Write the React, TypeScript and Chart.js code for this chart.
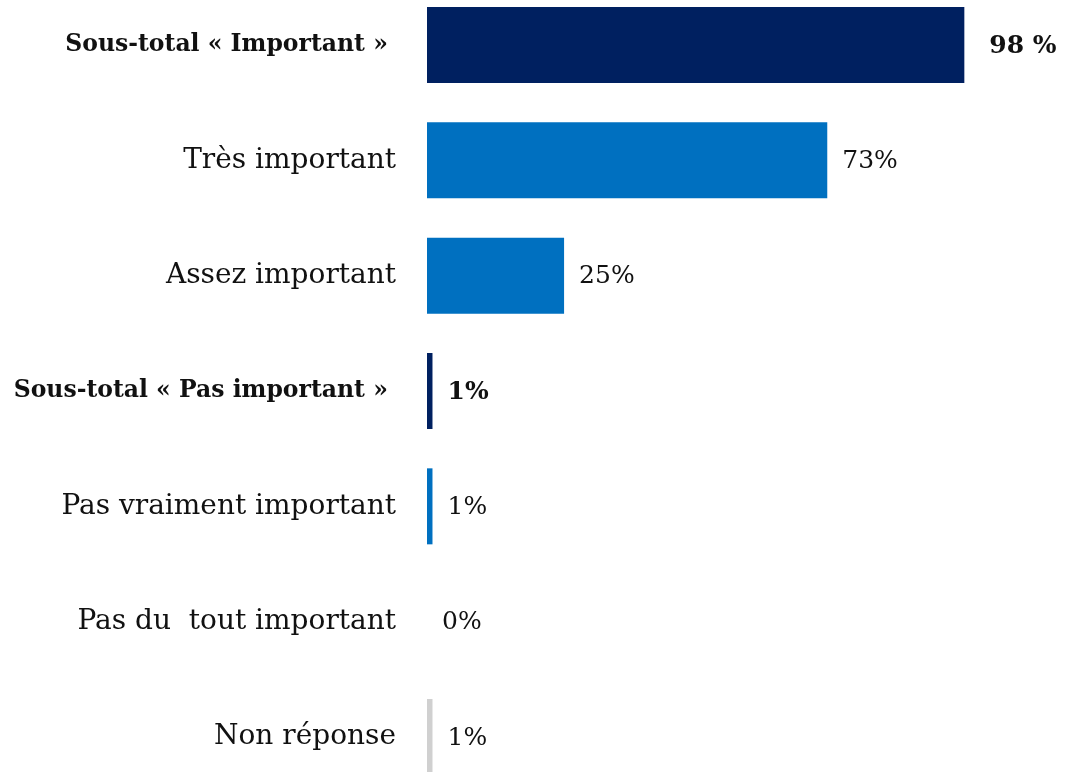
import React, { useEffect, useRef } from "react";
import { Chart, registerables } from "chart.js";

Chart.register(...registerables);

const categories = [
  "Sous-total « Important » ",
  "Très important",
  "Assez important",
  "Sous-total « Pas important » ",
  "Pas vraiment important",
  "Pas du  tout important",
  "Non réponse",
];
const values = [98, 73, 25, 1, 1, 0, 1];
const valueLabels = ["98 %", "73%", "25%", "1%", "1%", "0%", "1%"];
const isSubtotal = [true, false, false, true, false, false, false];
const barColors = ["#002060", "#0070C0", "#0070C0", "#002060", "#0070C0", "#0070C0", "#D0D0D0"];

const FONT = "'DejaVu Serif', serif";

const valueLabelPlugin = {
  id: "valueLabels",
  afterDatasetsDraw(chart: any) {
    const ctx = chart.ctx;
    const meta = chart.getDatasetMeta(0);
    ctx.save();
    ctx.textBaseline = "middle";
    ctx.textAlign = "left";
    ctx.fillStyle = "#111111";
    meta.data.forEach((bar: any, i: number) => {
      const bold = isSubtotal[i];
      ctx.font = `${bold ? "bold " : ""}25px ${FONT}`;
      const gap = i === 0 ? 25 : 15;
      ctx.fillText(valueLabels[i], bar.x + gap, bar.y + 1);
    });
    ctx.restore();
  },
};

export default function App() {
  const ref = useRef<HTMLCanvasElement | null>(null);
  useEffect(() => {
    if (!ref.current) return;
    const chart = new Chart(ref.current, {
      type: "bar",
      data: {
        labels: categories,
        datasets: [
          {
            data: values,
            backgroundColor: barColors,
            borderWidth: 0,
            inflateAmount: 0,
            barThickness: 76,
            clip: false as any,
          } as any,
        ],
      },
      options: {
        indexAxis: "y",
        animation: false,
        responsive: false,
        maintainAspectRatio: false,
        layout: { padding: { top: 45, bottom: 35, left: 0, right: 0 } },
        plugins: {
          legend: { display: false },
          tooltip: { enabled: false },
        },
        scales: {
          x: {
            display: false,
            min: 0,
            max: 118,
          },
          y: {
            offset: false,
            grid: { display: false, drawTicks: false },
            border: { display: false },
            ticks: {
              padding: 31,
              color: "#111111",
              font: (c: any) => ({
                family: FONT,
                size: isSubtotal[c.index] ? 23.5 : 28,
                weight: isSubtotal[c.index] ? "bold" : "normal",
              }),
            },
            afterFit: (scale: any) => {
              scale.width = 427;
              scale.paddingTop = 0;
              scale.paddingBottom = 0;
            },
          },
        },
      },
      plugins: [valueLabelPlugin],
    });
    return () => chart.destroy();
  }, []);
  return (
    <div style={{ position: "fixed", left: 0, top: 0, width: 1074, height: 772, background: "#ffffff" }}>
      <canvas ref={ref} width={1074} height={772} style={{ width: 1074, height: 772, display: "block" }} />
    </div>
  );
}
